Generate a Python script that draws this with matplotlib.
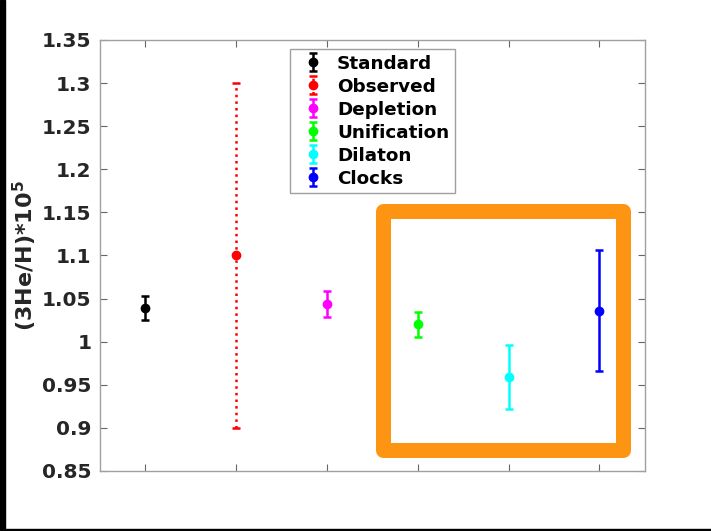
import matplotlib
matplotlib.use('Agg')
import matplotlib.pyplot as plt
from matplotlib.patches import Rectangle

# data
labels = ['Standard', 'Observed', 'Depletion', 'Unification', 'Dilaton', 'Clocks']
values = [1.039, 1.10, 1.044, 1.020, 0.959, 1.036]
errors = [0.014, 0.20, 0.015, 0.015, 0.037, 0.070]
colors = ['black', 'red', 'magenta', '#00ff00', 'cyan', 'blue']
styles = ['-', ':', '-', '-', '-', '-']

plt.rcParams['font.family'] = ['DejaVu Sans']
plt.rcParams['font.weight'] = 'bold'

fig = plt.figure(figsize=(7.11, 5.31), dpi=100)
ax = fig.add_axes([0.1406, 0.113, 0.7664, 0.8117])

for i, (lab, v, e, c, ls) in enumerate(zip(labels, values, errors, colors, styles)):
    eb = ax.errorbar(i + 1, v, yerr=e, fmt='o', color=c, ms=6, elinewidth=1.8,
                     capsize=3, capthick=1.8, label=lab)
    eb[2][0].set_linestyle(ls)

# highlight box around the last three models
box = Rectangle((3.62, 0.874), 6.26 - 3.62, 1.152 - 0.874, fill=False,
                edgecolor='#fd9512', linewidth=10.8, joinstyle='round', zorder=1)
ax.add_patch(box)

ax.set_xlim(0.5, 6.5)
ax.set_ylim(0.85, 1.35)
ax.set_xticks(range(1, 7))
ax.set_xticklabels([])
ax.set_yticks([0.85, 0.9, 0.95, 1.0, 1.05, 1.1, 1.15, 1.2, 1.25, 1.3, 1.35])
ax.set_yticklabels(['0.85', '0.9', '0.95', '1', '1.05', '1.1', '1.15', '1.2',
                    '1.25', '1.3', '1.35'])
ax.tick_params(direction='in', length=5, width=0.8, color='#666666',
               top=True, right=True, labelsize=14.5, labelcolor='#262626', pad=6)
for s in ax.spines.values():
    s.set_color('#a0a0a0')
    s.set_linewidth(1.0)

ax.set_ylabel(r'(3He/H)*10$^{\mathbf{5}}$', fontsize=16, fontweight='bold',
              color='#262626', labelpad=2)

leg = ax.legend(loc='upper left', bbox_to_anchor=(0.349, 0.979), fontsize=13.2,
                frameon=True, fancybox=False, edgecolor='#a0a0a0', framealpha=1,
                handlelength=1.9, handletextpad=0.35, labelspacing=0.275,
                borderpad=0.3, borderaxespad=0)
leg.get_frame().set_linewidth(1.0)

# black strips along the left and bottom edges of the image
fig.add_artist(Rectangle((0, 0), 5 / 711, 1, transform=fig.transFigure,
                         color='black', zorder=10))
fig.add_artist(Rectangle((0, 0), 1, 2 / 531, transform=fig.transFigure,
                         color='black', zorder=10))

fig.savefig('out.png', dpi=100)
